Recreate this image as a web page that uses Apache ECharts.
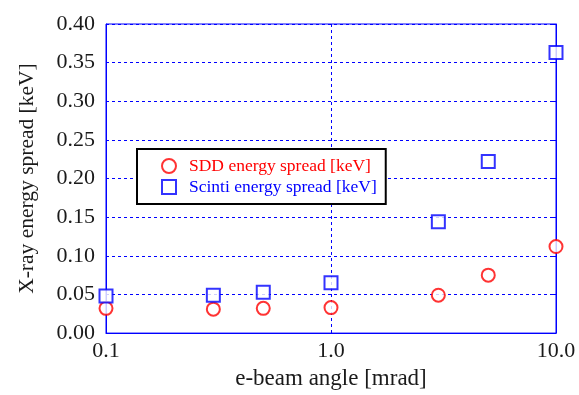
<!DOCTYPE html>
<html>
<head>
<meta charset="utf-8">
<script src="https://cdn.jsdelivr.net/npm/echarts@6/dist/echarts.min.js"></script>
<style>
  html, body { margin: 0; padding: 0; background: #fff; }
  #chart { width: 579px; height: 395px; }
</style>
</head>
<body>
<div id="chart"></div>
<script>
// e-beam angle [mrad]
const angles = [0.1, 0.3, 0.5, 1.0, 3.0, 5.0, 10.0];
// energy spreads [keV]
const sddSpread = [0.032, 0.031, 0.032, 0.033, 0.049, 0.075, 0.112];
const scintiSpread = [0.048, 0.049, 0.053, 0.065, 0.144, 0.222, 0.363];

const FONT = '"Liberation Serif", "DejaVu Serif", serif';
const BLUE = '#0000ff';
const RED = '#ff0000';
const INK = '#1a1a1a';

const chart = echarts.init(document.getElementById('chart'));

const toPairs = (ys) => angles.map((x, i) => [x, ys[i]]);

chart.setOption({
  animation: false,
  grid: {
    left: 106,
    right: 23,
    top: 24,
    bottom: 57,
    show: true,
    borderColor: BLUE,
    borderWidth: 1,
  },
  legend: {
    orient: 'vertical',
    left: 137,
    top: 149,
    padding: [8, 9, 8, 24],
    itemWidth: 14,
    itemHeight: 14,
    itemGap: 3,
    backgroundColor: '#fff',
    borderColor: '#000',
    borderWidth: 2,
    borderRadius: 0,
    textStyle: { fontFamily: FONT, fontSize: 17.5, lineHeight: 17.5, padding: [0, 0, 0, 8] },
    data: [
      { name: 'SDD energy spread [keV]', textStyle: { color: RED } },
      { name: 'Scinti energy spread [keV]', textStyle: { color: BLUE } },
    ],
  },
  xAxis: {
    type: 'log',
    logBase: 10,
    min: 0.1,
    max: 10,
    name: 'e-beam angle [mrad]',
    nameLocation: 'middle',
    nameGap: 33,
    nameTextStyle: { fontFamily: FONT, fontSize: 23, color: INK },
    axisLine: { show: true, lineStyle: { color: BLUE } },
    axisTick: { show: false },
    axisLabel: {
      fontFamily: FONT,
      fontSize: 22,
      color: INK,
      margin: 7,
      formatter: (v) => Number(v).toFixed(1),
    },
    splitLine: { show: true, lineStyle: { color: BLUE, type: [3, 3], width: 1 } },
    minorTick: { show: false },
  },
  yAxis: [
    {
      type: 'value',
      min: 0,
      max: 0.4,
      interval: 0.05,
      name: 'X-ray energy spread [keV]',
      nameLocation: 'middle',
      nameGap: 68,
      nameTextStyle: { fontFamily: FONT, fontSize: 21.5, color: INK },
      axisLine: { show: true, lineStyle: { color: BLUE } },
      axisTick: { show: false },
      axisLabel: {
        fontFamily: FONT,
        fontSize: 22,
        color: INK,
        margin: 11,
        formatter: (v) => v.toFixed(2),
      },
      splitLine: { show: true, lineStyle: { color: BLUE, type: [3, 3], width: 1 } },
    },
    {
      type: 'value',
      position: 'right',
      min: 0,
      max: 0.4,
      interval: 0.05,
      axisLine: { show: true, lineStyle: { color: BLUE } },
      axisTick: { show: true, inside: true, length: 6, lineStyle: { color: BLUE } },
      axisLabel: { show: false },
      splitLine: { show: false },
    },
  ],
  series: [
    {
      name: 'SDD energy spread [keV]',
      type: 'scatter',
      symbol: 'emptyCircle',
      symbolSize: 13,
      itemStyle: { color: RED, borderColor: RED, borderWidth: 1 },
      data: toPairs(sddSpread),
      z: 3,
    },
    {
      name: 'Scinti energy spread [keV]',
      type: 'scatter',
      symbol: 'emptyRect',
      symbolSize: 13,
      itemStyle: { color: BLUE, borderColor: BLUE, borderWidth: 1 },
      data: toPairs(scintiSpread),
      z: 3,
    },
  ],
});
</script>
</body>
</html>
